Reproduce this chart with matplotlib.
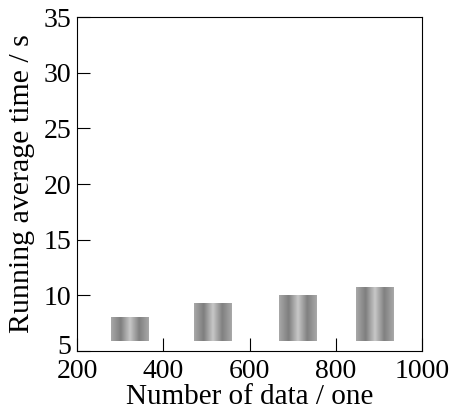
import matplotlib
matplotlib.use("Agg")
import matplotlib.pyplot as plt
import matplotlib.transforms as mtransforms
import numpy as np
from matplotlib.colors import LinearSegmentedColormap
from matplotlib.patches import Rectangle

# data
data_counts = [322, 515, 712, 890]
avg_times = [8.05, 9.3, 10.0, 10.75]
bar_base = 5.9
bar_width = 86

x_ticks = [200, 400, 600, 800, 1000]
y_ticks = [5, 10, 15, 20, 25, 30, 35]

plt.rcParams["font.family"] = ["Liberation Serif", "DejaVu Serif"]
plt.rcParams["font.size"] = 20

fig = plt.figure(figsize=(4.53, 4.15), dpi=100)
ax = fig.add_axes([0.170, 0.154, 0.762, 0.805])

cyl = LinearSegmentedColormap.from_list(
    "cyl",
    [(0.0, "#a8a8a8"), (0.25, "#7e7e7e"), (0.5, "#c8c8c8"),
     (0.75, "#808080"), (1.0, "#a8a8a8")],
)
grad = np.linspace(0, 1, 64).reshape(1, -1)

for x, top in zip(data_counts, avg_times):
    left = x - bar_width / 2
    im = ax.imshow(grad, cmap=cyl, aspect="auto", interpolation="bilinear",
                   extent=(left, left + bar_width, bar_base, top), zorder=2)
    clip = Rectangle((left, bar_base), bar_width, top - bar_base,
                     transform=ax.transData, facecolor="none", edgecolor="none")
    ax.add_patch(clip)
    im.set_clip_path(clip)

ax.set_xlim(200, 1000)
ax.set_ylim(5, 35)
ax.set_xticks(x_ticks)
ax.set_yticks(y_ticks)
ax.tick_params(direction="in", length=9.5, width=0.8, top=False, right=False)
ax.tick_params(axis="x", pad=6)
ax.tick_params(axis="y", pad=4)
for sp in ax.spines.values():
    sp.set_linewidth(0.8)

# lift the bottom "5" so it sits above the "200"
lbl5 = ax.get_yticklabels()[0]
lbl5.set_transform(lbl5.get_transform() +
                   mtransforms.ScaledTranslation(0, 7 / 100, fig.dpi_scale_trans))

ax.set_xlabel("Number of data / one", fontsize=21, labelpad=0)
ax.set_ylabel("Running average time / s", fontsize=21.5, labelpad=6)

fig.savefig("out.png", dpi=100)
